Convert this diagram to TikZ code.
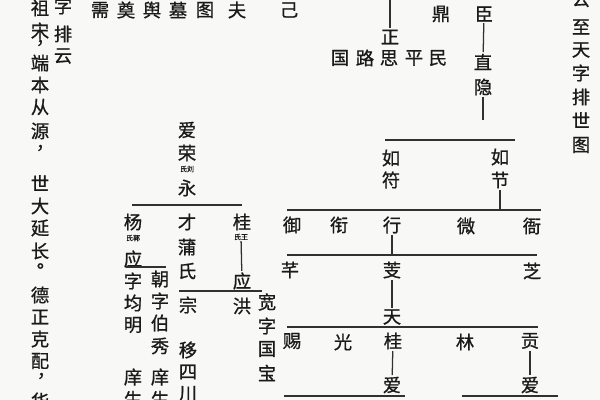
\documentclass[tikz,border=0pt]{standalone}
\usepackage{fontspec}
\newfontfamily\cjk[FakeBold=0.9]{Noto Sans CJK SC}
\definecolor{ink}{HTML}{1A1A1A}
\definecolor{paper}{HTML}{F8F8F6}
\tikzset{
  zi/.style={font=\cjk\fontsize{13}{13}\selectfont, text=ink, inner sep=1pt},
  dian/.style={font=\cjk\fontsize{13}{13}\selectfont, text=ink, inner sep=0pt},
  zhu/.style={font=\cjk\fontsize{5}{5}\selectfont, text=ink, inner sep=0.5pt},
  xian/.style={draw=ink!90, line width=0.9pt},
}

\begin{document}
\begin{tikzpicture}[x=0.025cm, y=-0.025cm]
    \useasboundingbox (0,0) rectangle (600,400);
    \fill[paper] (0,0) rectangle (600,400);
    \clip (0,0) rectangle (600,400);

    % left text columns
    \foreach \c/\y [count=\i] in {祖/8, 宋/31, 端/63, 本/85, 从/107, 源/131, 世/183, 大/206, 延/228, 长/251, 德/295, 正/317, 克/339, 配/361, 华/401}
      \node[zi] (zong\i) at (40,\y) {\c};
    \node[dian] (dou1) at (45,43) {，};
    \node[dian] (dou2) at (45,148) {，};
    \node[dian] (ju1) at (46,266) {。};
    \node[dian] (dou3) at (46,376) {，};
    \foreach \c/\y [count=\i] in {字/6, 排/34, 云/56}
      \node[zi] (pai\i) at (63,\y) {\c};

    % right text column
    \foreach \c/\y [count=\i] in {公/-1, 至/27, 天/50, 字/73, 排/97, 世/120, 图/145}
      \node[zi] (tu\i) at (581,\y) {\c};

    % top row
    \node[zi] (xu) at (100,10) {需};
    \node[zi] (dian) at (126,10) {奠};
    \node[zi] (yu) at (152,10) {舆};
    \node[zi] (mu) at (178,10) {墓};
    \node[zi] (tu) at (205,10) {图};
    \node[zi] (fu) at (237,10) {夫};
    \node[zi] (ji) at (289,10) {己};

    % upper tree
    \coordinate (ztop) at (390,-2);
    \node[zi] (zheng) at (390,37) {正};
    \node[zi] (ding) at (441,14) {鼎};
    \node[zi] (chen) at (484,14) {臣};
    \node[zi] (guo) at (340,58) {国};
    \node[zi] (lu) at (365,58) {路};
    \node[zi] (si) at (389,58) {思};
    \node[zi] (ping) at (414,58) {平};
    \node[zi] (min) at (438,58) {民};
    \node[zi] (zhi) at (483,62) {直};
    \node[zi] (yin) at (483,87) {隐};
    \coordinate (yinend) at (483,120);

    \draw[xian] (ztop) -- (zheng);
    \draw[xian] (chen) -- (zhi);
    \draw[xian] (yin) -- (yinend);

    \coordinate (b1l) at (385,140);
    \coordinate (b1r) at (515,140);
    \draw[xian] (b1l) -- (b1r);
    \node[zi] (ru1) at (391,158) {如};
    \node[zi] (fu1) at (391,180) {符};
    \node[zi] (ru2) at (500,157) {如};
    \node[zi] (jie) at (500,180) {节};

    \coordinate (b2l) at (287,210);
    \coordinate (b2r) at (541,210);
    \coordinate (b2j) at (500,210);
    \draw[xian] (b2l) -- (b2r);
    \draw[xian] (jie) -- (b2j);
    \node[zi] (yu1) at (292,225) {御};
    \node[zi] (xian1) at (339,225) {衔};
    \node[zi] (xing) at (392,225) {行};
    \node[zi] (wei) at (466,226) {微};
    \node[zi] (ya) at (532,226) {衙};

    \coordinate (b3l) at (287,255);
    \coordinate (b3r) at (537,255);
    \coordinate (b3j) at (392,255);
    \draw[xian] (b3l) -- (b3r);
    \draw[xian] (xing) -- (b3j);
    \node[zi] (qian) at (290,270) {芊};
    \node[zi] (ji2) at (392,270) {芰};
    \node[zi] (zhi2) at (532,271) {芝};
    \node[zi] (tian) at (392,317) {天};
    \draw[xian] (ji2) -- (tian);

    \coordinate (b4l) at (287,327);
    \coordinate (b4r) at (538,327);
    \draw[xian] (b4l) -- (b4r);
    \node[zi] (ci) at (292,341) {赐};
    \node[zi] (guang) at (343,342) {光};
    \node[zi] (gui2) at (393,341) {桂};
    \node[zi] (lin) at (465,342) {林};
    \node[zi] (gong) at (530,341) {贡};
    \node[zi] (ai2) at (392,385) {爱};
    \node[zi] (ai3) at (530,385) {爱};
    \draw[xian] (gui2) -- (ai2);
    \draw[xian] (gong) -- (ai3);

    \coordinate (b5l) at (284,396);
    \coordinate (b5r) at (405,396);
    \coordinate (b6l) at (462,396);
    \coordinate (b6r) at (558,396);
    \draw[xian] (b5l) -- (b5r);
    \draw[xian] (b6l) -- (b6r);

    % left tree
    \node[zi] (ai1) at (187,130) {爱};
    \node[zi] (rong) at (187,153) {荣};
    \node[zhu] (liu) at (187,169) {氏刘};
    \node[zi] (yong) at (187,188) {永};

    \coordinate (b7l) at (132,205);
    \coordinate (b7r) at (242,205);
    \draw[xian] (b7l) -- (b7r);
    \node[zi] (yang) at (133,222) {杨};
    \node[zhu] (guo2) at (133,238) {氏郭};
    \foreach \c/\y [count=\i] in {应/259, 字/281, 均/303, 明/325, 庠/377, 生/399}
      \node[zi] (ying\i) at (133,\y) {\c};
    \coordinate (b8l) at (126,267);
    \coordinate (b8r) at (166,267);
    \draw[xian] (b8l) -- (b8r);
    \foreach \c/\y [count=\i] in {朝/279, 字/301, 伯/323, 秀/346, 庠/377, 生/399}
      \node[zi] (chao\i) at (160,\y) {\c};

    \foreach \c/\y [count=\i] in {才/222, 蒲/247, 氏/271}
      \node[zi] (cai\i) at (187,\y) {\c};
    \node[zi] (gui1) at (242,222) {桂};
    \node[zhu] (wang) at (241,237) {氏王};
    \node[zi] (ying) at (242,281) {应};
    \draw[xian] (wang) -- (ying);

    \coordinate (b9l) at (179,291);
    \coordinate (b9r) at (262,291);
    \draw[xian] (b9l) -- (b9r);
    \node[zi] (zong) at (188,305) {宗};
    \foreach \c/\y [count=\i] in {移/350, 四/372, 川/394}
      \node[zi] (yi\i) at (188,\y) {\c};
    \node[zi] (hong) at (242,306) {洪};
    \foreach \c/\y [count=\i] in {宽/302, 字/326, 国/349, 宝/373}
      \node[zi] (kuan\i) at (267,\y) {\c};
  \end{tikzpicture}
\end{document}
